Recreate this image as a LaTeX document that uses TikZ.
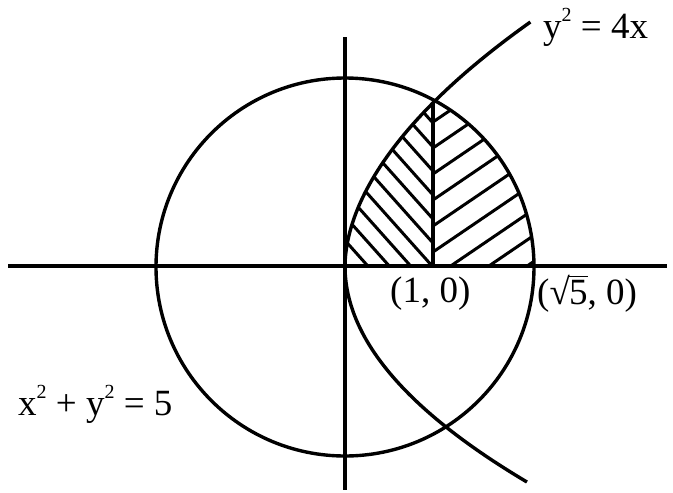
\documentclass[tikz,border=0pt]{standalone}
\usepackage{fontspec}
\setmainfont{Liberation Serif}
\newcommand{\supdigit}[1]{\raisebox{0.45em}{\fontsize{20}{20}\selectfont #1}}
\begin{document}
\begin{tikzpicture}[x=1pt,y=-1pt,
  curve/.style={line width=3.4pt},
  axisline/.style={line width=3.8pt},
  hatch/.style={line width=3pt},
  lbl/.style={inner sep=0pt, anchor=base west, font=\fontsize{37}{44}\selectfont}]
\useasboundingbox (0,0) rectangle (673,493);
% axes
\coordinate (xl) at (8,266);
\coordinate (xr) at (667,266);
\coordinate (yt) at (345,37);
\coordinate (yb) at (345,490);
\coordinate (O) at (345,267);
\draw[axisline] (xl) -- (xr);
\draw[axisline] (yt) -- (yb);
% circle
\draw[curve] (O) circle[radius=189];
% parabola
\draw[curve] plot[domain=0.1:244, samples=120, variable=\t] ({345+35.6*pow(\t/100,1.85)}, {266-\t});
\draw[curve] plot[domain=0:216, samples=120, variable=\t] ({345+39*(\t/100)^2}, {266+\t});
% hatching, left part
\begin{scope}
  \clip plot[domain=0.1:163, samples=80, variable=\t] ({345+35.6*pow(\t/100,1.85)}, {266-\t}) -- (433,266) -- cycle;
  \foreach \k in {-4,...,6} {
    \draw[hatch] ({233},{243-24*\k-224}) -- ({433},{243-24*\k});
  }
\end{scope}
% hatching, right part
\begin{scope}
  \clip (433,60) rectangle (545,266);
  \clip (O) circle[radius=189];
  \foreach \k in {-4,...,6} {
    \draw[hatch] ({433},{252-26*\k}) -- ({583},{252-26*\k-102});
  }
\end{scope}
% vertical line at x = 1
\coordinate (A) at (433,266);
\coordinate (P) at (433,103);
\draw[curve] (A) -- (P);
% labels
\node[lbl] (lpar) at (543,38) {y\supdigit{2} = 4x};
\node[lbl] (lone) at (390,302) {(1, 0)};
\node[lbl] (lroot) at (537,304) {(√\kern-0.02em\rlap{\rule[0.72em]{0.5em}{1.6pt}}5, 0)};
\node[lbl] (lcirc) at (18,415) {x\supdigit{2} + y\supdigit{2} = 5};
\end{tikzpicture}
\end{document}
